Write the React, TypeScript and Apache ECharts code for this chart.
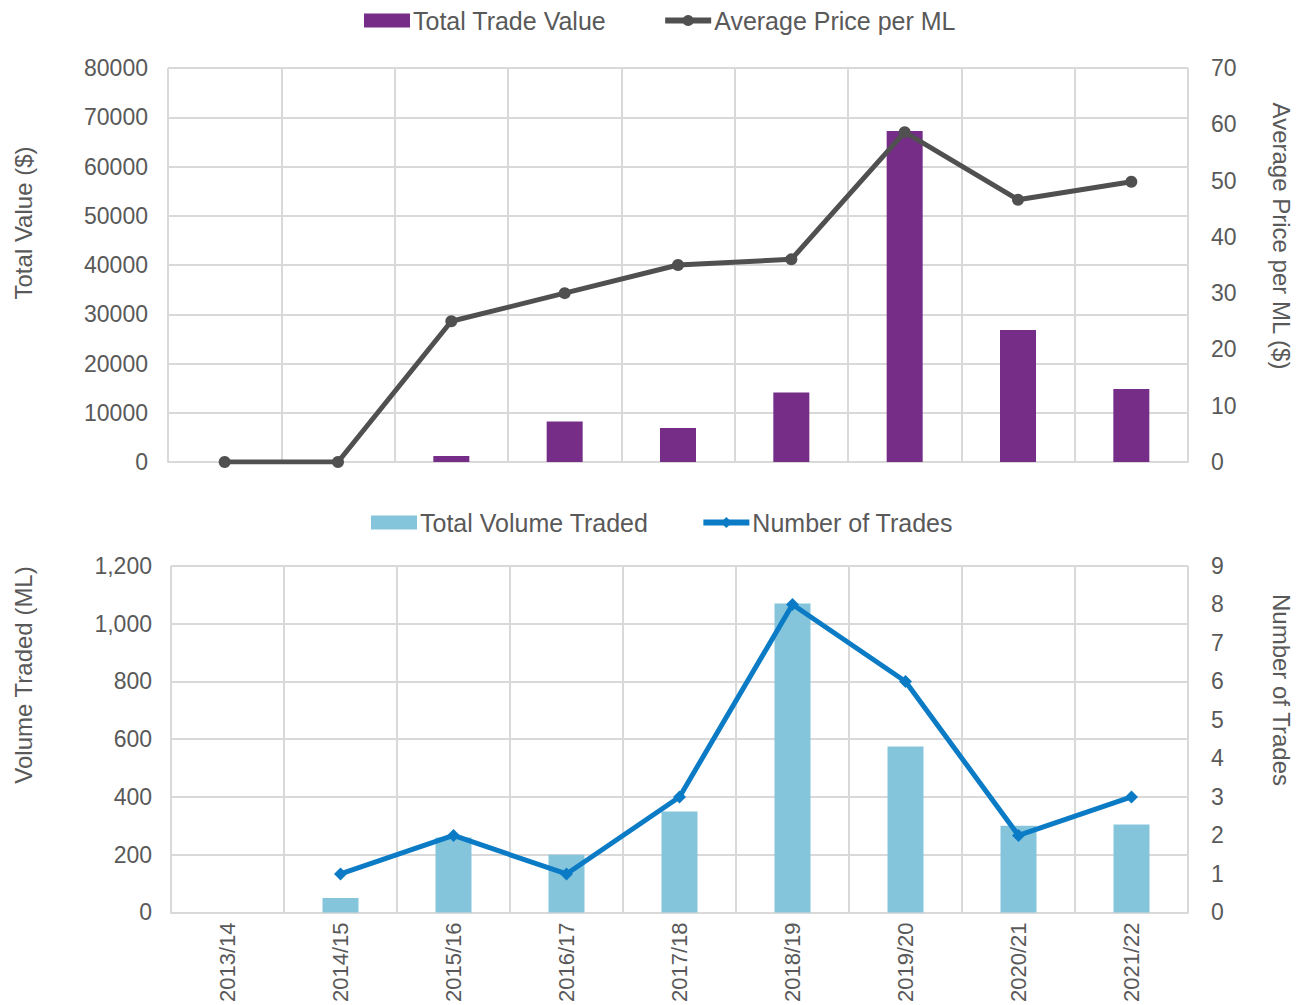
import React, { useEffect, useRef } from 'react';
import * as echarts from 'echarts';

const categories = ['2013/14', '2014/15', '2015/16', '2016/17', '2017/18', '2018/19', '2019/20', '2020/21', '2021/22'];
const totalTradeValue = [0, 0, 1200, 8200, 6900, 14100, 67200, 26800, 14800];
const avgPricePerML = [0, 0, 25, 30, 35, 36, 58.6, 46.6, 49.8];
const totalVolumeTraded = [0, 50, 260, 200, 350, 1070, 575, 300, 305];
const numberOfTrades: (number | null)[] = [null, 1, 2, 1, 3, 8, 6, 2, 3];

const valueTicks = { min: 0, max: 80000, interval: 10000 };
const priceTicks = { min: 0, max: 70, interval: 10 };
const volumeTicks = { min: 0, max: 1200, interval: 200 };
const tradesTicks = { min: 0, max: 9, interval: 1 };

const TEXT = '#595959';
const GRID = '#d9d9d9';
const FONT = 'Liberation Sans, Arial, sans-serif';

export default function App() {
  const ref = useRef<HTMLDivElement>(null);
  useEffect(() => {
    document.body.style.margin = '0';
    const chart = echarts.init(ref.current!, undefined, { renderer: 'svg' });
    const axisLabel = { color: TEXT, fontSize: 23, fontFamily: FONT };
    const xBase = {
      type: 'category' as const,
      data: categories,
      boundaryGap: true,
      axisTick: { show: false },
      axisLine: { show: true, lineStyle: { color: GRID, width: 2 } },
      splitLine: { show: true, interval: 0, lineStyle: { color: GRID, width: 2 } },
    };
    const legendText = { color: TEXT, fontSize: 25, fontFamily: FONT, padding: [0, 0, 0, -2] };
    chart.setOption({
      animation: false,
      textStyle: { fontFamily: FONT },
      grid: [
        { left: 168, right: 116, top: 68, height: 394 },
        { left: 171, right: 116, top: 566, height: 349 },
      ],
      legend: [
        {
          data: [
            { name: 'Total Trade Value', icon: 'rect' },
            { name: 'Average Price per ML', lineStyle: { width: 6 } },
          ],
          left: 359,
          top: 3,
          itemWidth: 46,
          itemHeight: 14,
          itemGap: 56,
          textStyle: legendText,
        },
        {
          data: [
            { name: 'Total Volume Traded', icon: 'rect' },
            { name: 'Number of Trades', lineStyle: { width: 6 } },
          ],
          left: 366,
          top: 505,
          itemWidth: 46,
          itemHeight: 14,
          itemGap: 52,
          textStyle: legendText,
        },
      ],
      xAxis: [
        { ...xBase, gridIndex: 0, axisLabel: { show: false } },
        {
          ...xBase,
          gridIndex: 1,
          axisLabel: { color: TEXT, fontSize: 22, fontFamily: FONT, rotate: 90, margin: 10, interval: 0 },
        },
      ],
      yAxis: [
        {
          type: 'value', gridIndex: 0, ...valueTicks,
          axisLabel: { ...axisLabel, margin: 20, formatter: (v: number) => String(v) },
          axisLine: { show: false }, axisTick: { show: false },
          splitLine: { show: true, lineStyle: { color: GRID, width: 2 } },
        },
        {
          type: 'value', gridIndex: 0, position: 'right', ...priceTicks,
          axisLabel: { ...axisLabel, margin: 23 },
          axisLine: { show: false }, axisTick: { show: false },
          splitLine: { show: false },
        },
        {
          type: 'value', gridIndex: 1, ...volumeTicks,
          axisLabel: { ...axisLabel, margin: 19, formatter: (v: number) => v.toLocaleString('en-US') },
          axisLine: { show: false }, axisTick: { show: false },
          splitLine: { show: true, lineStyle: { color: GRID, width: 2 } },
        },
        {
          type: 'value', gridIndex: 1, position: 'right', ...tradesTicks,
          axisLabel: { ...axisLabel, margin: 23 },
          axisLine: { show: false }, axisTick: { show: false },
          splitLine: { show: false },
        },
      ],
      series: [
        {
          name: 'Total Trade Value', type: 'bar', xAxisIndex: 0, yAxisIndex: 0,
          data: totalTradeValue, barWidth: 36, itemStyle: { color: '#752d87' },
        },
        {
          name: 'Average Price per ML', type: 'line', xAxisIndex: 0, yAxisIndex: 1,
          data: avgPricePerML, symbol: 'circle', symbolSize: 12,
          lineStyle: { color: '#505050', width: 5 }, itemStyle: { color: '#505050' },
        },
        {
          name: 'Total Volume Traded', type: 'bar', xAxisIndex: 1, yAxisIndex: 2,
          data: totalVolumeTraded, barWidth: 36, itemStyle: { color: '#85c5dc' },
        },
        {
          name: 'Number of Trades', type: 'line', xAxisIndex: 1, yAxisIndex: 3,
          data: numberOfTrades, symbol: 'diamond', symbolSize: 13,
          lineStyle: { color: '#0b7bc5', width: 5 }, itemStyle: { color: '#0b7bc5' },
        },
      ],
      graphic: [
        {
          type: 'text', x: 23, y: 223, rotation: Math.PI / 2,
          style: { text: 'Total Value ($)', fill: TEXT, font: `24px ${FONT}`, align: 'center', verticalAlign: 'middle' },
        },
        {
          type: 'text', x: 1281, y: 236, rotation: -Math.PI / 2,
          style: { text: 'Average Price per ML ($)', fill: TEXT, font: `24px ${FONT}`, align: 'center', verticalAlign: 'middle' },
        },
        {
          type: 'text', x: 23, y: 675, rotation: Math.PI / 2,
          style: { text: 'Volume Traded (ML)', fill: TEXT, font: `24px ${FONT}`, align: 'center', verticalAlign: 'middle' },
        },
        {
          type: 'text', x: 1281, y: 690, rotation: -Math.PI / 2,
          style: { text: 'Number of Trades', fill: TEXT, font: `24px ${FONT}`, align: 'center', verticalAlign: 'middle' },
        },
      ],
    });
    return () => chart.dispose();
  }, []);
  return <div ref={ref} style={{ width: 1304, height: 1005 }} />;
}
